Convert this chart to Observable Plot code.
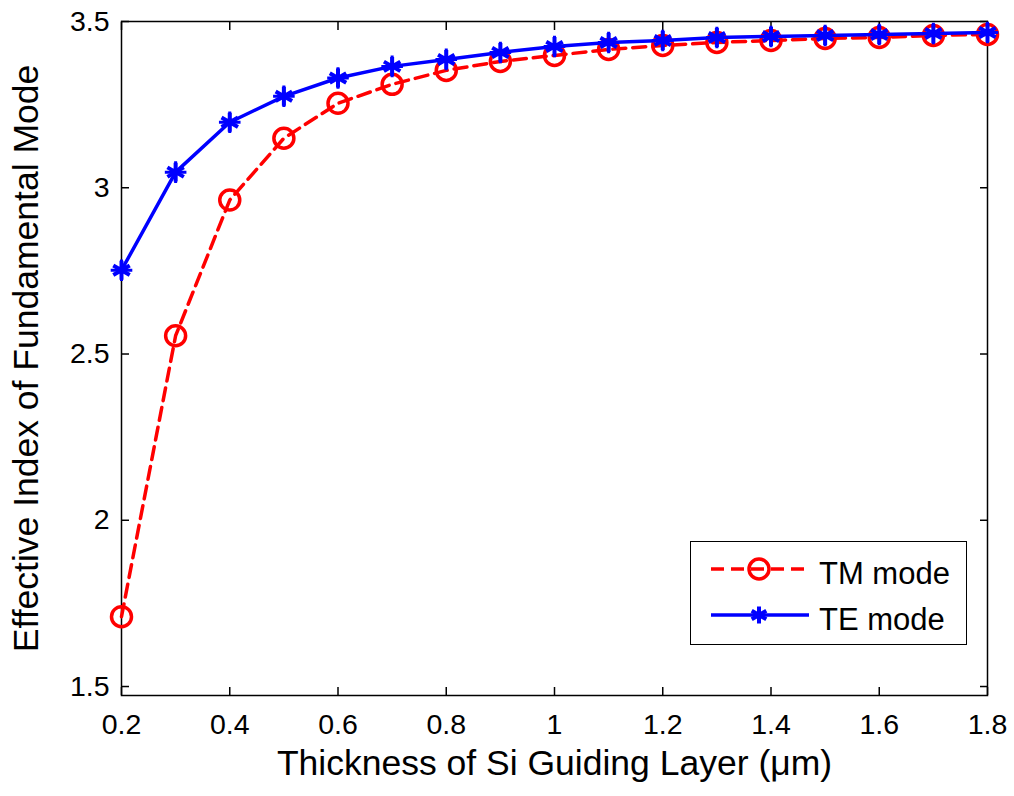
<!DOCTYPE html>
<html>
<head>
<meta charset="utf-8">
<script src="https://cdn.jsdelivr.net/npm/d3@7"></script>
<script src="https://cdn.jsdelivr.net/npm/@observablehq/plot@0.6"></script>
<style>
  html, body { margin: 0; padding: 0; background: #fff; }
  #wrap { position: relative; width: 1014px; height: 796px; }
  #wrap svg g[aria-label$="tick label"], #wrap svg g[aria-label$="tick label"] text { font-size: 28.5px !important; }
  #wrap svg g[aria-label$="axis label"], #wrap svg g[aria-label$="axis label"] text { font-size: 35.5px !important; }
  #legend { position: absolute; left: 690px; top: 541px; width: 277px; height: 104px;
    border: 1.5px solid #000; background: #fff; box-sizing: border-box; }
  #legend svg { position: absolute; left: 0; top: 0; }
</style>
</head>
<body>
<div id="wrap"></div>
<script>
const thickness = [0.2,0.3,0.4,0.5,0.6,0.7,0.8,0.9,1.0,1.1,1.2,1.3,1.4,1.5,1.6,1.7,1.8];
const tmMode = [1.71,2.555,2.963,3.149,3.254,3.311,3.353,3.38,3.398,3.416,3.428,3.437,3.443,3.449,3.452,3.458,3.461];
const teMode = [2.752,3.047,3.197,3.275,3.33,3.365,3.386,3.407,3.425,3.437,3.443,3.452,3.455,3.458,3.461,3.464,3.467];
const xTicks = [0.2,0.4,0.6,0.8,1,1.2,1.4,1.6,1.8];
const yTicks = [1.5,2,2.5,3,3.5];
const seriesNames = ["TM mode","TE mode"];
const seriesColors = ["#ff0000","#0000ff"];

const tm = thickness.map((x,i)=>({x, y: tmMode[i]}));
const te = thickness.map((x,i)=>({x, y: teMode[i]}));

const chart = Plot.plot({
  width: 1014,
  height: 796,
  marginLeft: 121,
  marginRight: 27,
  marginTop: 21,
  marginBottom: 101,
  style: {fontFamily: "'Liberation Sans', Arial, sans-serif", fontSize: "28.5px", color: "#000", background: "#fff"},
  x: {domain: [0.2, 1.8]},
  y: {domain: [1.473, 3.5]},
  marks: [
    Plot.frame({stroke: "#000", strokeWidth: 1.5}),
    Plot.axisX({ticks: xTicks, tickSize: -8, tickPadding: 26, tickFormat: d => String(d),
      label: "Thickness of Si Guiding Layer (\u03bcm)", labelAnchor: "center", labelArrow: "none", labelOffset: 79,
      strokeWidth: 1.5}),
    Plot.axisX({anchor: "top", ticks: xTicks, tickSize: -8, tickFormat: () => "", label: null, strokeWidth: 1.5}),
    Plot.axisY({ticks: yTicks, tickSize: -8, tickPadding: 20, tickFormat: d => String(d),
      label: "Effective Index of Fundamental Mode", labelAnchor: "center", labelArrow: "none", labelOffset: 109,
      strokeWidth: 1.5}),
    Plot.axisY({anchor: "right", ticks: yTicks, tickSize: -8, tickFormat: () => "", label: null, strokeWidth: 1.5}),
    Plot.line(tm, {x: "x", y: "y", stroke: seriesColors[0], strokeWidth: 3.5, strokeDasharray: "13,7"}),
    Plot.dot(tm, {x: "x", y: "y", r: 10, stroke: seriesColors[0], strokeWidth: 3.5, fill: "none"}),
    Plot.line(te, {x: "x", y: "y", stroke: seriesColors[1], strokeWidth: 3.5}),
    Plot.dot(te, {x: "x", y: "y", r: 9, symbol: "asterisk", stroke: seriesColors[1], strokeWidth: 4}),
    Plot.dot(te, {x: "x", y: "y", r: 7, symbol: "plus", stroke: seriesColors[1], strokeWidth: 3})
  ]
});
document.getElementById("wrap").appendChild(chart);

// Legend overlay
const leg = document.createElement("div");
leg.id = "legend";
const svg = d3.create("svg").attr("width", 277).attr("height", 104);
seriesNames.forEach((name, i) => {
  const cy = 27 + i * 46;
  const g = svg.append("g");
  g.append("line").attr("x1", 20).attr("x2", 118).attr("y1", cy).attr("y2", cy)
    .attr("stroke", seriesColors[i]).attr("stroke-width", 3.5)
    .attr("stroke-dasharray", i === 0 ? "13,7" : null);
  if (i === 0) {
    g.append("circle").attr("cx", 68).attr("cy", cy).attr("r", 10).attr("fill", "none")
      .attr("stroke", seriesColors[i]).attr("stroke-width", 3.5);
  } else {
    const s = d3.symbol(d3.symbolAsterisk, 200)();
    g.append("path").attr("d", s).attr("transform", `translate(68,${cy})`)
      .attr("stroke", seriesColors[i]).attr("stroke-width", 4).attr("fill", "none");
  }
  g.append("text").attr("x", 128).attr("y", cy + 15).text(name)
    .attr("font-family", "'Liberation Sans', Arial, sans-serif").attr("font-size", 31).attr("fill", "#000");
});
leg.appendChild(svg.node());
document.getElementById("wrap").appendChild(leg);
</script>
</body>
</html>
